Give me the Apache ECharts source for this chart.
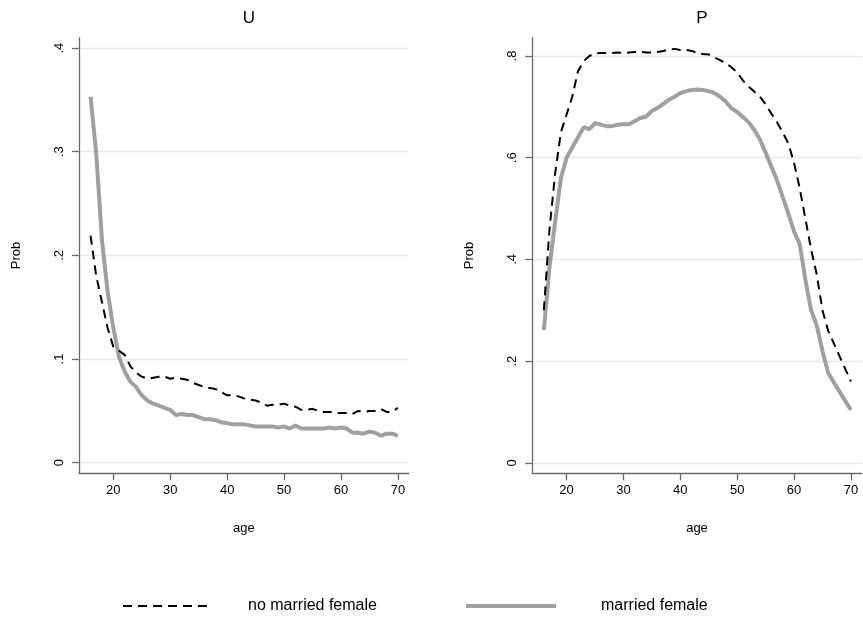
<!DOCTYPE html>
<html><head><meta charset="utf-8">
<script src="https://cdn.jsdelivr.net/npm/echarts@6/dist/echarts.min.js"></script>
<style>html,body{margin:0;padding:0;background:#fff}#c{width:863px;height:627px}</style>
</head><body><div id="c"></div>
<script>
const ages = [16,17,18,19,20,21,22,23,24,25,26,27,28,29,30,31,32,33,34,35,36,37,38,39,40,41,42,43,44,45,46,47,48,49,50,51,52,53,54,55,56,57,58,59,60,61,62,63,64,65,66,67,68,69,70];
const uNoMarried = [0.219,0.180,0.155,0.130,0.112,0.108,0.104,0.093,0.087,0.083,0.081,0.082,0.083,0.083,0.081,0.082,0.081,0.080,0.077,0.075,0.073,0.072,0.071,0.068,0.065,0.065,0.064,0.062,0.061,0.060,0.058,0.055,0.056,0.056,0.057,0.055,0.054,0.051,0.051,0.052,0.050,0.049,0.049,0.048,0.048,0.048,0.047,0.050,0.049,0.050,0.050,0.052,0.049,0.049,0.053];
const uMarried = [0.353,0.298,0.215,0.165,0.130,0.102,0.088,0.078,0.073,0.065,0.060,0.057,0.055,0.053,0.051,0.046,0.047,0.046,0.046,0.044,0.042,0.042,0.041,0.039,0.038,0.037,0.037,0.037,0.036,0.035,0.035,0.035,0.035,0.034,0.035,0.033,0.036,0.033,0.033,0.033,0.033,0.033,0.034,0.033,0.034,0.033,0.029,0.029,0.028,0.030,0.029,0.026,0.028,0.028,0.026];
const pNoMarried = [0.300,0.460,0.570,0.650,0.685,0.720,0.770,0.790,0.800,0.805,0.806,0.806,0.806,0.807,0.806,0.807,0.808,0.808,0.807,0.807,0.808,0.810,0.813,0.814,0.812,0.812,0.810,0.806,0.804,0.803,0.797,0.792,0.786,0.778,0.768,0.752,0.740,0.730,0.720,0.705,0.687,0.670,0.650,0.628,0.590,0.540,0.480,0.420,0.370,0.300,0.260,0.235,0.210,0.185,0.160];
const pMarried = [0.261,0.385,0.475,0.560,0.600,0.620,0.640,0.660,0.656,0.668,0.665,0.662,0.662,0.665,0.666,0.666,0.672,0.678,0.681,0.692,0.698,0.706,0.714,0.720,0.727,0.731,0.733,0.734,0.733,0.731,0.727,0.720,0.710,0.697,0.690,0.680,0.670,0.655,0.636,0.610,0.583,0.556,0.523,0.490,0.455,0.430,0.360,0.300,0.270,0.220,0.177,0.158,0.140,0.122,0.104];
const xTicks = [20,30,40,50,60,70];
const uTicks = [0,0.1,0.2,0.3,0.4];
const pTicks = [0,0.2,0.4,0.6,0.8];
const titles = ['U','P'];
const seriesNames = ['no married female','married female'];

const FONT = 'Liberation Sans, Arial, Helvetica, sans-serif';
const fmt = v => v === 0 ? '0' : String(+v.toFixed(2)).replace(/^0\./, '.');
const pairs = (ys) => ages.map((a, i) => [a, ys[i]]);
const dashStyle = {color: '#000', width: 2, type: [9, 6]};
const solidStyle = {color: '#a0a0a0', width: 4};

function xAxis(idx) {
  return {
    type: 'value', gridIndex: idx, min: 13.97, max: 71.9,
    name: 'age', nameLocation: 'middle', nameGap: 49,
    nameTextStyle: {fontFamily: FONT, fontSize: 13, color: '#000'},
    axisLine: {show: true, onZero: false, lineStyle: {color: '#6a6a6a', width: 1.3}},
    axisTick: {show: true, length: 7, customValues: xTicks, lineStyle: {color: '#6a6a6a', width: 1.3}},
    axisLabel: {customValues: xTicks, margin: 11, fontFamily: FONT, fontSize: 13, color: '#000'},
    splitLine: {show: false}
  };
}
function yAxis(idx, min, max, ticks) {
  return {
    type: 'value', gridIndex: idx, min: min, max: max,
    name: 'Prob', nameLocation: 'middle', nameRotate: 90, nameGap: 56,
    nameTextStyle: {fontFamily: FONT, fontSize: 13, color: '#000'},
    axisLine: {show: true, onZero: false, lineStyle: {color: '#6a6a6a', width: 1.3}},
    axisTick: {show: true, length: 7, customValues: ticks, lineStyle: {color: '#6a6a6a', width: 1.3}},
    axisLabel: {customValues: ticks, rotate: 90, margin: 13, fontFamily: FONT, fontSize: 13, color: '#000', formatter: fmt},
    splitLine: {show: true, lineStyle: {color: '#e8e8e8', width: 1.3}}
  };
}
function dashed(idx, ys) {
  return {name: seriesNames[0], type: 'line', xAxisIndex: idx, yAxisIndex: idx, data: pairs(ys),
    showSymbol: false, symbol: 'none', smooth: false, z: 3,
    lineStyle: dashStyle, itemStyle: {color: '#000'}};
}
function solid(idx, ys) {
  return {name: seriesNames[1], type: 'line', xAxisIndex: idx, yAxisIndex: idx, data: pairs(ys),
    showSymbol: false, symbol: 'none', smooth: false, z: 2,
    lineStyle: solidStyle, itemStyle: {color: '#a0a0a0'}};
}
function legend(name, left, pad, ls) {
  return {
    data: [name], left: left, top: 593, itemWidth: 90, itemHeight: 20,
    itemStyle: {opacity: 0, borderWidth: 0},
    lineStyle: ls,
    textStyle: {fontFamily: FONT, fontSize: 16, color: '#000', padding: [0,0,0,pad]},
    selectedMode: false
  };
}

const chart = echarts.init(document.getElementById('c'), null, {renderer: 'canvas'});
chart.setOption({
  animation: false,
  backgroundColor: '#fff',
  title: [
    {text: titles[0], left: 244, top: 5, textAlign: 'center', textStyle: {fontFamily: FONT, fontSize: 17, fontWeight: 'normal', color: '#000'}},
    {text: titles[1], left: 697, top: 5, textAlign: 'center', textStyle: {fontFamily: FONT, fontSize: 17, fontWeight: 'normal', color: '#000'}}
  ],
  grid: [
    {left: 79, top: 37.7, width: 329.7, height: 435.6},
    {left: 532.3, top: 37.7, width: 329.4, height: 435.6}
  ],
  xAxis: [xAxis(0), xAxis(1)],
  yAxis: [yAxis(0, -0.0102, 0.41, uTicks), yAxis(1, -0.0205, 0.836, pTicks)],
  legend: [legend(seriesNames[0], 117, 30, dashStyle), legend(seriesNames[1], 459, 40, solidStyle)],
  series: [dashed(0, uNoMarried), solid(0, uMarried), dashed(1, pNoMarried), solid(1, pMarried)]
});
</script></body></html>
